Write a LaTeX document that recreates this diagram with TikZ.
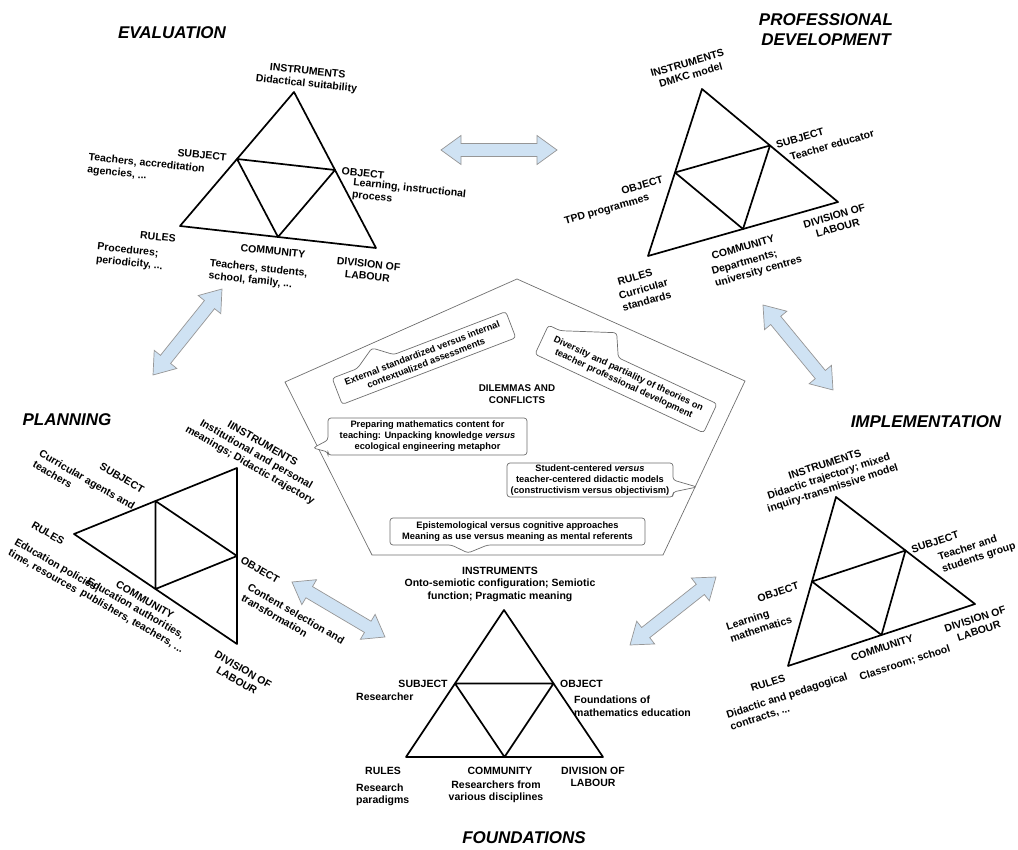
\documentclass[tikz,border=0pt]{standalone}
\usepackage{fontspec}
\setmainfont{Liberation Sans}
\usetikzlibrary{calc}
\definecolor{arrfill}{RGB}{207,226,243}
\definecolor{arrdraw}{RGB}{150,150,150}
\definecolor{pentc}{RGB}{110,110,110}
\tikzset{
 lab/.style={font=\fontsize{10.5}{12.5}\selectfont\bfseries, inner sep=0pt, align=center},
 labl/.style={lab, align=left},
 ttl/.style={font=\fontsize{17}{20}\selectfont\bfseries\itshape, inner sep=0pt, align=center},
 tri/.style={draw=black, line width=1.7pt, line join=round},
 pent/.style={draw=pentc, line width=0.7pt},
 cbox/.style={draw=pentc, line width=0.7pt, rounded corners=3pt, fill=white},
 ctext/.style={font=\fontsize{9.3}{11}\selectfont\bfseries, inner sep=0pt, align=center},
 darr/.style={fill=arrfill, draw=arrdraw, line width=0.7pt, line join=miter},
}
\newcommand\activitytri[4]{%
 \coordinate (#1A) at #2; \coordinate (#1L) at #3; \coordinate (#1R) at #4;
 \coordinate (#1AL) at ($(#1A)!0.5!(#1L)$);
 \coordinate (#1AR) at ($(#1A)!0.5!(#1R)$);
 \coordinate (#1LR) at ($(#1L)!0.5!(#1R)$);
 \draw[tri] (#1A) -- (#1L) -- (#1R) -- cycle;
 \draw[tri] (#1AL) -- (#1AR) -- (#1LR) -- cycle;
}
\newcommand\dblarrow[2]{%
 \draw[darr] let \p1=($(#2)-(#1)$), \n1={atan2(\y1,\x1)}, \n2={veclen(\x1,\y1)} in
 [shift={(#1)}, rotate=\n1] (0pt,0pt) -- (20pt,14.5pt) -- (20pt,6.5pt) -- (\n2*1pt-20pt,6.5pt)
 -- (\n2*1pt-20pt,14.5pt) -- (\n2*1pt,0pt) -- (\n2*1pt-20pt,-14.5pt) -- (\n2*1pt-20pt,-6.5pt)
 -- (20pt,-6.5pt) -- (20pt,-14.5pt) -- cycle;}
\begin{document}
\begin{tikzpicture}[x=1pt,y=-1pt]
\useasboundingbox (0,0) rectangle (1018,850);
% triangles
\activitytri{ev}{(294,92)}{(180,226)}{(376,248)}
\activitytri{pd}{(702,89)}{(648,256)}{(838,202)}
\activitytri{im}{(836,497)}{(788,666)}{(975,604)}
\activitytri{pl}{(237,468)}{(74,534)}{(237,644)}
\activitytri{fo}{(504,610)}{(406,757)}{(603,757)}
% pentagon
\coordinate (p1) at (517,279); \coordinate (p2) at (745,381); \coordinate (p3) at (663,555);
\coordinate (p4) at (372,555); \coordinate (p5) at (285,382);
\draw[pent] (p1) -- (p2) -- (p3) -- (p4) -- (p5) -- cycle;
\node[ctext, font=\fontsize{9.8}{12}\selectfont\bfseries] (dil) at (517,394) {DILEMMAS AND\\CONFLICTS};
% callouts
\begin{scope}[shift={(424,358)}, rotate=21]
 \draw[cbox] (-93,14) -- (-93,-14) -- (-66,-14) -- (-45,-28) -- (-27,-14) -- (93,-14) -- (93,14) -- cycle;
 \node[ctext, transform shape] (c1) at (0,0) {External standardized versus internal\\contextualized assessments};
\end{scope}
\begin{scope}[shift={(626,379)}, rotate=-25]
 \draw[cbox] (-93,16) -- (-93,-16) -- (-80,-16) -- (-28,-38) -- (-16,-16) -- (93,-16) -- (93,16) -- cycle;
 \node[ctext, transform shape] (c2) at (0,0) {Diversity and partiality of theories on\\teacher professional development};
\end{scope}
\begin{scope}[shift={(427.5,436.5)}]
 \draw[cbox] (-99.5,-18.5) -- (99.5,-18.5) -- (99.5,18.5) -- (-99.5,18.5) -- (-99.5,15.5) -- (-114.5,11.5) -- (-99.5,3.5) -- cycle;
 \node[ctext] (c3) at (0,0) {Preparing mathematics content for\\teaching: Unpacking knowledge \textit{versus}\\ecological engineering metaphor};
\end{scope}
\begin{scope}[shift={(590,480)}]
 \draw[cbox] (-83,-17) -- (83,-17) -- (83,0) -- (107,7) -- (83,12) -- (83,17) -- (-83,17) -- cycle;
 \node[ctext] (c4) at (0,0) {Student-centered \textit{versus}\\teacher-centered didactic models\\(constructivism versus objectivism)};
\end{scope}
\begin{scope}[shift={(517.5,531.5)}]
 \draw[cbox] (-127.5,-13.5) -- (127.5,-13.5) -- (127.5,13.5) -- (-30,13.5) -- (-49.5,21.5) -- (-66,13.5) -- (-127.5,13.5) -- cycle;
 \node[ctext] (c5) at (0,0) {Epistemological versus cognitive approaches\\Meaning as use versus meaning as mental referents};
\end{scope}
% double arrows
\coordinate (aA1) at (441,150); \coordinate (aA2) at (557,150);
\coordinate (aB1) at (222,289); \coordinate (aB2) at (153,375);
\coordinate (aC1) at (763,305); \coordinate (aC2) at (833,390);
\coordinate (aD1) at (292,582); \coordinate (aD2) at (385,637);
\coordinate (aE1) at (716,577); \coordinate (aE2) at (630,645);
\dblarrow{aA1}{aA2}
\dblarrow{aB1}{aB2}
\dblarrow{aC1}{aC2}
\dblarrow{aD1}{aD2}
\dblarrow{aE1}{aE2}
% titles
\node[ttl] (tEV) at (172,33) {EVALUATION};
\node[ttl] (tPD) at (826,30) {PROFESSIONAL\\DEVELOPMENT};
\node[ttl] (tIM) at (926,422) {IMPLEMENTATION};
\node[ttl] (tPL) at (67,420) {PLANNING};
\node[ttl] (tFO) at (524,838) {FOUNDATIONS};
% evaluation labels
\node[lab, rotate=-6] (evI) at (307,78) {INSTRUMENTS\\Didactical suitability};
\node[lab, rotate=-6] (evS) at (202,155) {SUBJECT};
\node[labl, rotate=-6] (evSd) at (146,170) {Teachers, accreditation\\agencies, ...};
\node[lab, rotate=-6] (evO) at (363,173) {OBJECT};
\node[labl, rotate=-6] (evOd) at (409,195) {Learning, instructional\\process};
\node[lab, rotate=-6] (evR) at (158,237) {RULES};
\node[labl, rotate=-6] (evRd) at (130,257) {Procedures;\\periodicity, ...};
\node[lab, rotate=-6] (evC) at (273,251) {COMMUNITY};
\node[labl, rotate=-6] (evCd) at (258,275) {Teachers, students,\\school, family, ...};
\node[lab, rotate=-6] (evD) at (368,270) {DIVISION OF\\LABOUR};
% professional development labels
\node[lab, rotate=16] (pdI) at (689,69) {INSTRUMENTS\\DMKC model};
\node[lab, rotate=16] (pdS) at (800,138) {SUBJECT};
\node[lab, rotate=16] (pdSd) at (832,145) {Teacher educator};
\node[lab, rotate=16] (pdO) at (642,185) {OBJECT};
\node[lab, rotate=16] (pdOd) at (607,210) {TPD programmes};
\node[lab, rotate=16] (pdD) at (836,222) {DIVISION OF\\LABOUR};
\node[lab, rotate=16] (pdC) at (743,247) {COMMUNITY};
\node[labl, rotate=16] (pdCd) at (757,266) {Departments;\\university centres};
\node[lab, rotate=16] (pdR) at (635,277) {RULES};
\node[labl, rotate=16] (pdRd) at (645,295) {Curricular\\standards};
% implementation labels
\node[lab, rotate=18] (imI) at (829,477) {INSTRUMENTS\\Didactic trajectory; mixed\\inquiry-transmissive model};
\node[lab, rotate=18] (imS) at (935,542) {SUBJECT};
\node[labl, rotate=18] (imSd) at (977,552) {Teacher and\\students group};
\node[lab, rotate=18] (imO) at (778,592) {OBJECT};
\node[labl, rotate=18] (imOd) at (759,623) {Learning\\mathematics};
\node[lab, rotate=18] (imD) at (977,625) {DIVISION OF\\LABOUR};
\node[lab, rotate=18] (imC) at (882,648) {COMMUNITY};
\node[lab, rotate=18] (imCd) at (905,663) {Classroom; school};
\node[lab, rotate=18] (imR) at (768,683) {RULES};
\node[labl, rotate=18] (imRd) at (789,702) {Didactic and pedagogical\\contracts, ...};
% planning labels
\node[lab, rotate=-30] (plI) at (256,455) {IINSTRUMENTS\\Institutional and personal\\meanings; Didactic trajectory};
\node[lab, rotate=-30] (plS) at (122,478) {SUBJECT};
\node[labl, rotate=-30] (plSd) at (84,485) {Curricular agents and\\teachers};
\node[lab, rotate=-30] (plR) at (48,533) {RULES};
\node[labl, rotate=-30] (plRd) at (54,571) {Education policies;\\time, resources};
\node[lab, rotate=-30] (plC) at (145,600) {COMMUNITY};
\node[labl, rotate=-30] (plCd) at (135,616) {Education authorities,\\publishers, teachers, ...};
\node[lab, rotate=-30] (plO) at (260,570) {OBJECT};
\node[labl, rotate=-30] (plOd) at (293,619) {Content selection and\\transformation};
\node[lab, rotate=-30] (plD) at (240,675) {DIVISION OF\\LABOUR};
% foundations labels
\node[lab] (foI) at (500,584) {INSTRUMENTS\\Onto-semiotic configuration; Semiotic\\function; Pragmatic meaning};
\node[lab] (foS) at (423,684) {SUBJECT};
\node[lab, anchor=west] (foSd) at (356,697) {Researcher};
\node[lab, anchor=west] (foO) at (560,684) {OBJECT};
\node[labl, anchor=west] (foOd) at (574,706) {Foundations of\\mathematics education};
\node[lab] (foR) at (383,771) {RULES};
\node[labl, anchor=west] (foRd) at (356,795) {Research\\paradigms};
\node[lab] (foC) at (500,771) {COMMUNITY};
\node[lab] (foCd) at (496,792) {Researchers from\\various disciplines};
\node[lab] (foD) at (593,777) {DIVISION OF\\LABOUR};
\end{tikzpicture}
\end{document}
